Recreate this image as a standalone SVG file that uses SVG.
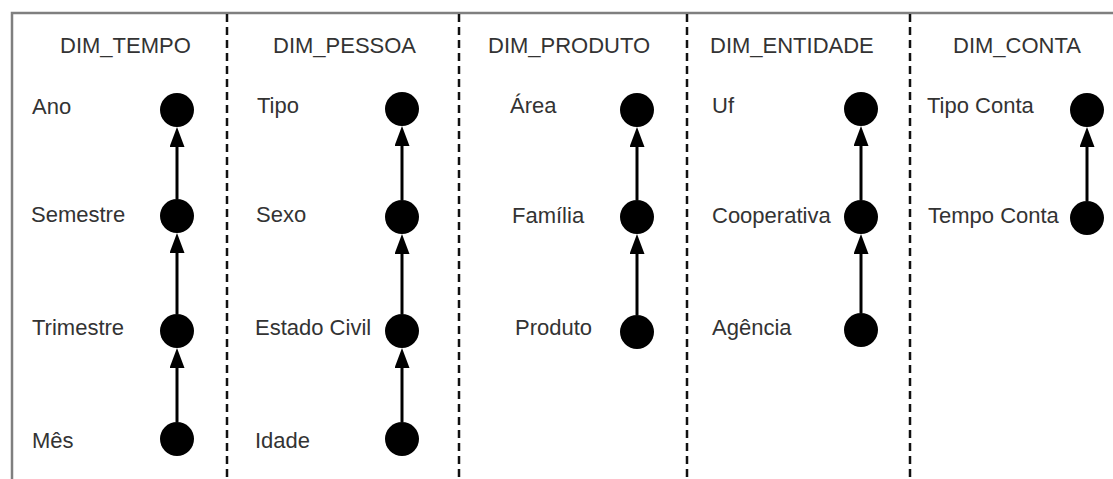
<svg xmlns="http://www.w3.org/2000/svg" width="1113" height="479" viewBox="0 0 1113 479">
  <style>
    .frame { fill: none; stroke: #7f7f7f; stroke-width: 2.5; }
    .divider { stroke: #111; stroke-width: 2.5; stroke-dasharray: 8 5; }
    .lbl { font-family: "Liberation Sans", Arial, sans-serif; font-size: 22px; fill: #333; }
    .dot { fill: #000; }
    .edge { stroke: #000; stroke-width: 3; fill: none; marker-end: url(#arrow); }
  </style>
  <defs>
    <marker id="arrow" viewBox="0 0 20 15" refX="14" refY="7.5" markerWidth="20" markerHeight="15" markerUnits="userSpaceOnUse" orient="auto">
      <path d="M0,0 L20,7.5 L0,15 z" fill="#000"/>
    </marker>
  </defs>

  <rect width="1113" height="479" fill="#fff"/>

  <!-- outer frame: top and left edges -->
  <path class="frame" d="M12,479 V13 H1113"/>

  <!-- column separators -->
  <g id="separators">
    <line class="divider" x1="227" y1="14" x2="227" y2="479"/>
    <line class="divider" x1="459" y1="14" x2="459" y2="479"/>
    <line class="divider" x1="687" y1="14" x2="687" y2="479"/>
    <line class="divider" x1="910" y1="14" x2="910" y2="479"/>
  </g>

  <!-- hierarchy connectors (child -> parent) -->
  <g id="connectors">
    <line class="edge" x1="177" y1="199" x2="177" y2="133"/>
    <line class="edge" x1="177" y1="314" x2="177" y2="239"/>
    <line class="edge" x1="177" y1="422" x2="177" y2="354"/>

    <line class="edge" x1="402" y1="200" x2="402" y2="132"/>
    <line class="edge" x1="402" y1="314" x2="402" y2="240"/>
    <line class="edge" x1="402" y1="422" x2="402" y2="354"/>

    <line class="edge" x1="637" y1="200" x2="637" y2="133"/>
    <line class="edge" x1="637" y1="315" x2="637" y2="240"/>

    <line class="edge" x1="861" y1="200" x2="861" y2="132"/>
    <line class="edge" x1="861" y1="313" x2="861" y2="240"/>

    <line class="edge" x1="1087" y1="201" x2="1087" y2="133"/>
  </g>

  <!-- DIM_TEMPO -->
  <g id="dim-tempo">
    <text class="lbl" x="60" y="53">DIM_TEMPO</text>
    <g id="tempo-ano"><text class="lbl" x="32" y="114">Ano</text><circle class="dot" cx="177" cy="110" r="17"/></g>
    <g id="tempo-semestre"><text class="lbl" x="31" y="222">Semestre</text><circle class="dot" cx="177" cy="216" r="17"/></g>
    <g id="tempo-trimestre"><text class="lbl" x="32" y="335">Trimestre</text><circle class="dot" cx="177" cy="331" r="17"/></g>
    <g id="tempo-mes"><text class="lbl" x="32" y="448">Mês</text><circle class="dot" cx="177" cy="439" r="17"/></g>
  </g>

  <!-- DIM_PESSOA -->
  <g id="dim-pessoa">
    <text class="lbl" x="273" y="53">DIM_PESSOA</text>
    <g id="pessoa-tipo"><text class="lbl" x="257" y="113">Tipo</text><circle class="dot" cx="402" cy="109" r="17"/></g>
    <g id="pessoa-sexo"><text class="lbl" x="256" y="222">Sexo</text><circle class="dot" cx="402" cy="217" r="17"/></g>
    <g id="pessoa-estado-civil"><text class="lbl" x="255" y="335">Estado Civil</text><circle class="dot" cx="402" cy="331" r="17"/></g>
    <g id="pessoa-idade"><text class="lbl" x="255" y="448">Idade</text><circle class="dot" cx="402" cy="439" r="17"/></g>
  </g>

  <!-- DIM_PRODUTO -->
  <g id="dim-produto">
    <text class="lbl" x="488" y="53">DIM_PRODUTO</text>
    <g id="produto-area"><text class="lbl" x="510" y="113">Área</text><circle class="dot" cx="637" cy="110" r="17"/></g>
    <g id="produto-familia"><text class="lbl" x="512" y="223">Família</text><circle class="dot" cx="637" cy="217" r="17"/></g>
    <g id="produto-produto"><text class="lbl" x="515" y="335">Produto</text><circle class="dot" cx="637" cy="332" r="17"/></g>
  </g>

  <!-- DIM_ENTIDADE -->
  <g id="dim-entidade">
    <text class="lbl" x="710" y="53">DIM_ENTIDADE</text>
    <g id="entidade-uf"><text class="lbl" x="712" y="113">Uf</text><circle class="dot" cx="861" cy="109" r="17"/></g>
    <g id="entidade-cooperativa"><text class="lbl" x="712" y="223">Cooperativa</text><circle class="dot" cx="861" cy="217" r="17"/></g>
    <g id="entidade-agencia"><text class="lbl" x="712" y="335">Agência</text><circle class="dot" cx="861" cy="330" r="17"/></g>
  </g>

  <!-- DIM_CONTA -->
  <g id="dim-conta">
    <text class="lbl" x="953" y="53">DIM_CONTA</text>
    <g id="conta-tipo"><text class="lbl" x="927" y="113">Tipo Conta</text><circle class="dot" cx="1087" cy="110" r="17"/></g>
    <g id="conta-tempo"><text class="lbl" x="928" y="223">Tempo Conta</text><circle class="dot" cx="1087" cy="218" r="17"/></g>
  </g>
</svg>
